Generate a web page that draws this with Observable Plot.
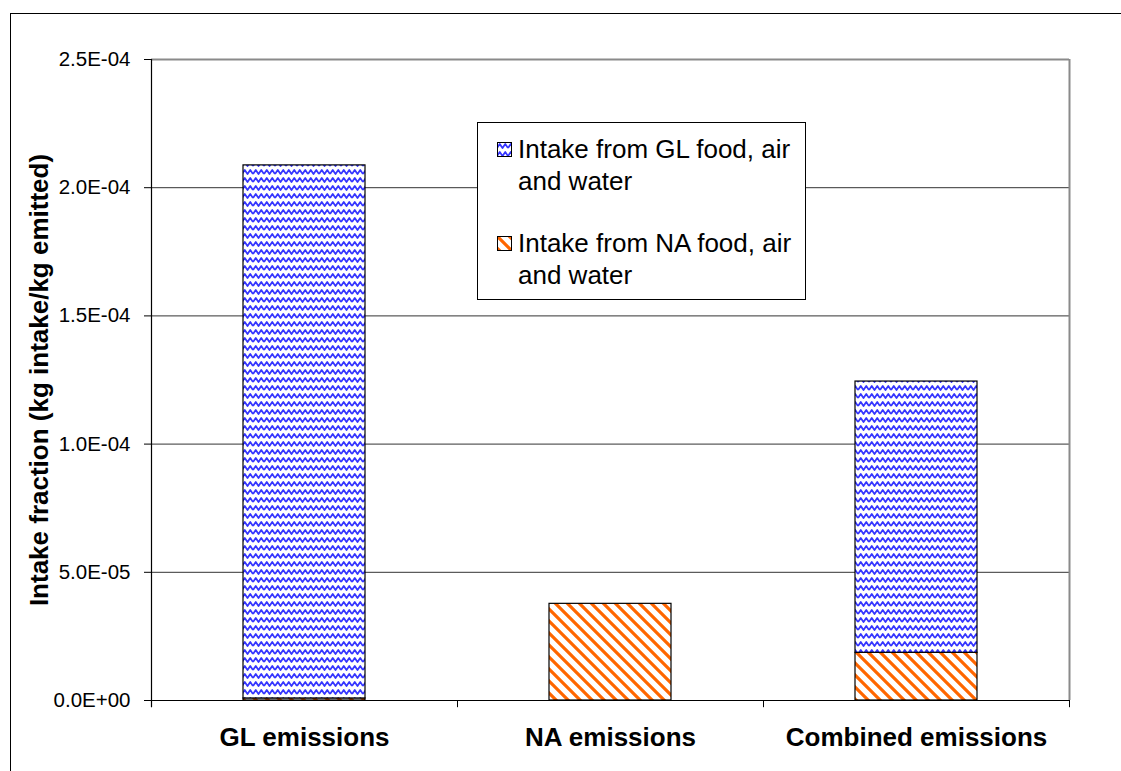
<!DOCTYPE html>
<html>
<head>
<meta charset="utf-8">
<script src="https://cdn.jsdelivr.net/npm/d3@7"></script>
<script src="https://cdn.jsdelivr.net/npm/@observablehq/plot@0.6"></script>
<style>
  html, body { margin: 0; padding: 0; background: #fff; overflow: hidden; }
  body { width: 1121px; height: 771px; position: relative; font-family: "Liberation Sans", Arial, sans-serif; }
  #frame { position: absolute; left: 10px; top: 13px; width: 1300px; height: 1000px; border-left: 1.5px solid #000; border-top: 1.5px solid #000; }
  #chart { position: absolute; left: 0; top: 0; }
  #legend { position: absolute; left: 477px; top: 122px; width: 327px; height: 176px; border: 1px solid #000; background: #fff; box-sizing: content-box; }
  .entry { position: absolute; left: 19px; display: flex; align-items: flex-start; font-size: 26px; line-height: 32px; color: #000; }
  .entry svg { margin-top: 9px; margin-right: 6px; flex: none; }
</style>
</head>
<body>
<svg width="0" height="0" style="position:absolute">
  <defs>
    <pattern id="gl" patternUnits="userSpaceOnUse" width="11" height="8">
      <rect width="11" height="8" fill="#ffffff"/>
      <path d="M0,6 L2.75,2 L5.5,6 L8.25,2 L11,6" fill="none" stroke="#3535ff" stroke-width="1.8" stroke-linejoin="round"/>
    </pattern>
    <pattern id="na" patternUnits="userSpaceOnUse" width="12" height="12">
      <rect width="12" height="12" fill="#ffffff"/>
      <path d="M-3,-3 L15,15 M-3,9 L3,15 M9,-3 L15,3" fill="none" stroke="#ff6600" stroke-width="3.2"/>
    </pattern>
  </defs>
</svg>
<div id="frame"></div>
<div id="chart"></div>
<div id="legend"></div>
<script>
const categories = ["GL emissions", "NA emissions", "Combined emissions"];
const seriesNames = ["Intake from NA food, air and water", "Intake from GL food, air and water"];
const naIntake = [8e-7, 3.77e-5, 1.86e-5];
const glIntake = [2.079e-4, 0, 1.058e-4];
const yTicks = [0, 5e-5, 1e-4, 1.5e-4, 2e-4, 2.5e-4];
const yTitle = "Intake fraction (kg intake/kg emitted)";

const data = [];
categories.forEach((c, i) => data.push({cat: c, series: seriesNames[0], value: naIntake[i]}));
categories.forEach((c, i) => data.push({cat: c, series: seriesNames[1], value: glIntake[i]}));

const fmt = d => {
  const [m, e] = d.toExponential(1).split("e");
  const sign = e[0] === "-" ? "-" : "+";
  const n = Math.abs(+e);
  return m.toUpperCase() + "E" + sign + String(n).padStart(2, "0");
};

const chart = Plot.plot({
  width: 1121,
  height: 771,
  marginLeft: 151,
  marginRight: 52,
  marginTop: 59,
  marginBottom: 71,
  style: {fontFamily: "'Liberation Sans', Arial, sans-serif", background: "transparent", color: "#000"},
  x: {domain: categories, paddingInner: 0.6, paddingOuter: 0.3, axis: null},
  y: {domain: [0, 2.5e-4], axis: null},
  color: {domain: seriesNames, range: ["url(#na)", "url(#gl)"]},
  marks: [
    Plot.ruleY(yTicks.slice(1, -1), {stroke: "#333", strokeWidth: 1}),
    Plot.ruleY([2.5e-4], {stroke: "#8a8a8a", strokeWidth: 2}),
    Plot.ruleX([categories[2]], {dx: 153, stroke: "#8a8a8a", strokeWidth: 2}),
    Plot.barY(data, Plot.stackY({x: "cat", y: "value", fill: "series", stroke: "#000", strokeWidth: 1.2, order: null})),
    Plot.ruleY([0], {stroke: "#000", strokeWidth: 1.2}),
    Plot.axisY({ticks: yTicks, tickFormat: fmt, tickSize: 7, tickPadding: 14, fontSize: 20.5, anchor: "left", label: null, stroke: "#000"}),
    Plot.ruleX([categories[0]], {dx: -153, y1: -2.8e-6, y2: 2.5e-4, stroke: "#000", strokeWidth: 1.2}),
    Plot.ruleX(categories, {dx: 153, y1: -2.8e-6, y2: 0, stroke: "#000"}),
    Plot.axisX({tickSize: 0, tickPadding: 27, fontSize: 26, fontWeight: "bold", label: null}),
    Plot.text([yTitle], {frameAnchor: "left", dx: -112, rotate: -90, textAnchor: "middle", fontSize: 26, fontWeight: "bold", fill: "#000"})
  ]
});
document.getElementById("chart").appendChild(chart);

// Legend built from the same series names
const legend = document.getElementById("legend");
const legendOrder = [seriesNames[1], seriesNames[0]];
const legendFill = {[seriesNames[0]]: "url(#na)", [seriesNames[1]]: "url(#gl)"};
legendOrder.forEach((name, i) => {
  const e = document.createElement("div");
  e.className = "entry";
  e.style.top = (i === 0 ? 10 : 104) + "px";
  const parts = name.split(" and ");
  e.innerHTML = `<svg width="15" height="15"><rect x="0.5" y="0.5" width="14" height="14" fill="${legendFill[name]}" stroke="#000" stroke-width="1"/></svg><span>${parts[0]}<br>and ${parts[1]}</span>`;
  legend.appendChild(e);
});
</script>
</body>
</html>
